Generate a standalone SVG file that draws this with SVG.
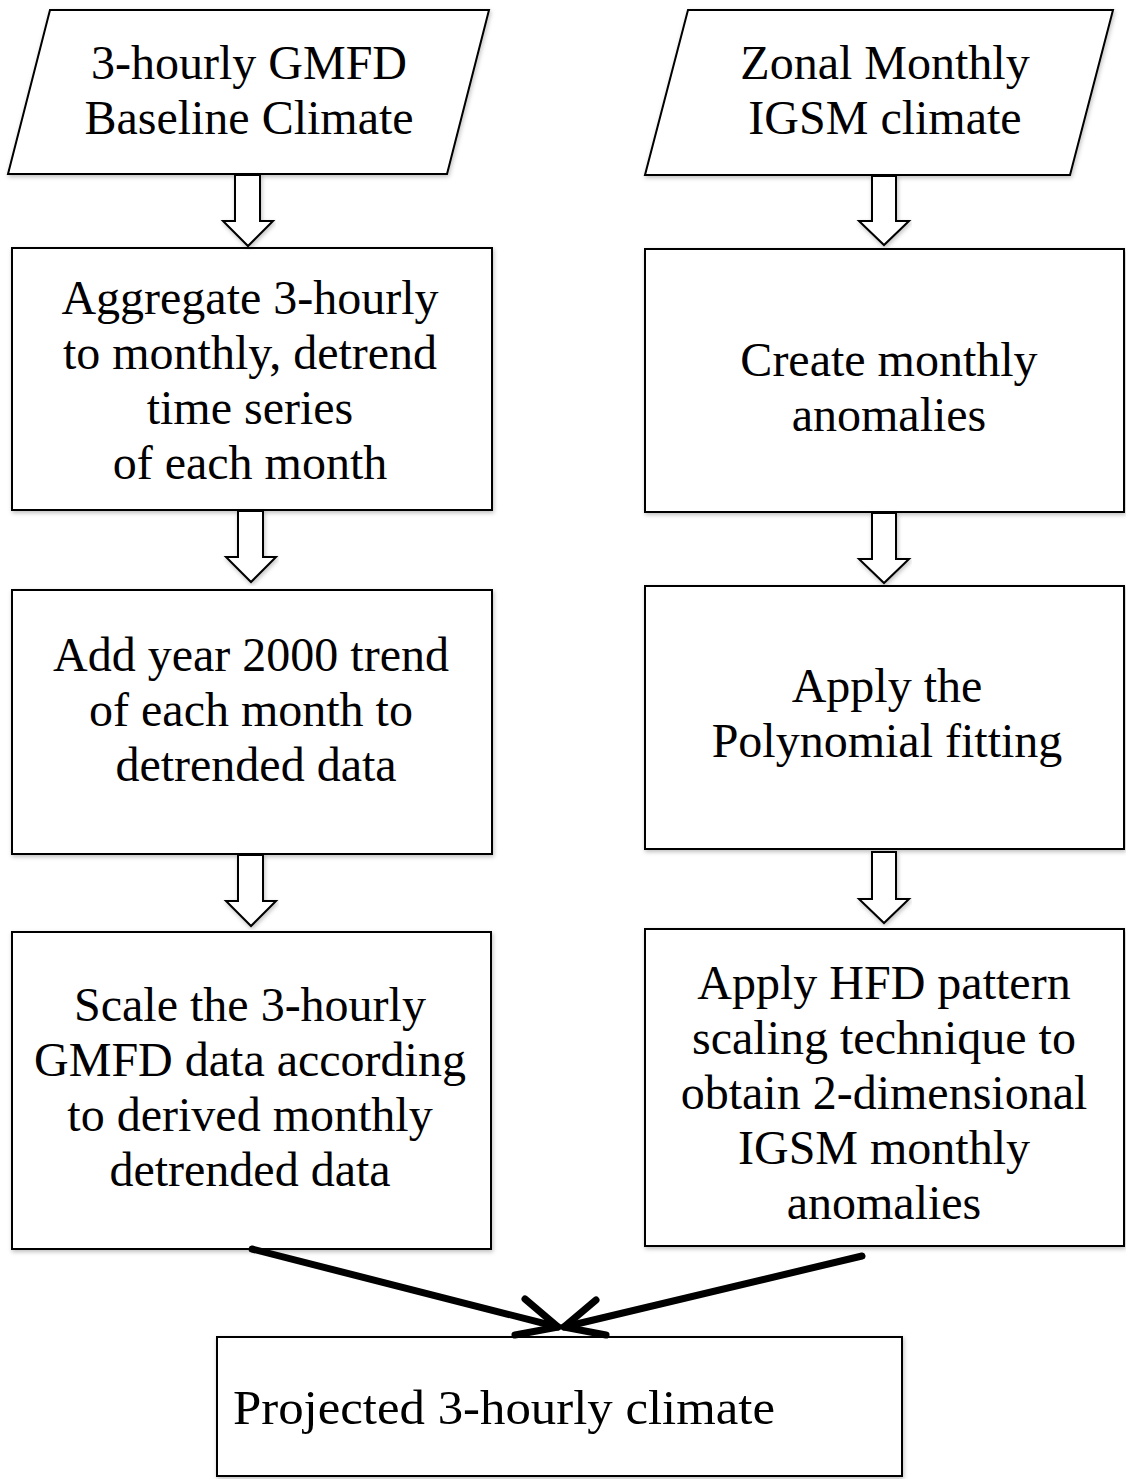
<svg xmlns="http://www.w3.org/2000/svg" width="1126" height="1479" viewBox="0 0 1126 1479">
<defs>
<filter id="sh" x="-5%" y="-5%" width="110%" height="110%">
<feDropShadow dx="1" dy="2" stdDeviation="2" flood-color="#000" flood-opacity="0.25"/>
</filter>
</defs>
<style>
.box{fill:#fff;stroke:#000;stroke-width:2;filter:url(#sh)}
.blk{fill:#fff;stroke:#000;stroke-width:2;stroke-linejoin:miter;filter:url(#sh)}
.t{font-family:"Liberation Serif","Times New Roman",serif;font-size:48px;fill:#000;text-anchor:middle}
.tp{font-family:"Liberation Serif",serif;font-size:49px;fill:#000}
.ln{stroke:#000;stroke-width:7;stroke-linecap:round;fill:none;stroke-linejoin:round}
</style>
<rect width="1126" height="1479" fill="#fff"/>
<g id="n1">
<polygon class="box" points="50,10 489,10 447,174 8,174"/>
<text class="t" x="249" y="79">3-hourly GMFD</text>
<text class="t" x="249" y="134">Baseline Climate</text>
</g>
<g id="n2">
<polygon class="box" points="688,10 1113,10 1070,175 645,175"/>
<text class="t" x="885" y="79">Zonal Monthly</text>
<text class="t" x="885" y="134">IGSM climate</text>
</g>
<g id="n3">
<rect class="box" x="12" y="248" width="480" height="262"/>
<text class="t" x="250" y="314">Aggregate 3-hourly</text>
<text class="t" x="250" y="369">to monthly, detrend</text>
<text class="t" x="250" y="424">time series</text>
<text class="t" x="250" y="479">of each month</text>
</g>
<g id="n4">
<rect class="box" x="645" y="249" width="479" height="263"/>
<text class="t" x="889" y="376">Create monthly</text>
<text class="t" x="889" y="431">anomalies</text>
</g>
<g id="n5">
<rect class="box" x="12" y="590" width="480" height="264"/>
<text class="t" x="251" y="671">Add year 2000 trend</text>
<text class="t" x="251" y="726">of each month to</text>
<text class="t" x="256" y="781">detrended data</text>
</g>
<g id="n6">
<rect class="box" x="645" y="586" width="479" height="263"/>
<text class="t" x="887" y="702">Apply the</text>
<text class="t" x="887" y="757">Polynomial fitting</text>
</g>
<g id="n7">
<rect class="box" x="12" y="932" width="479" height="317"/>
<text class="t" x="250" y="1021">Scale the 3-hourly</text>
<text class="t" x="250" y="1076">GMFD data according</text>
<text class="t" x="250" y="1131">to derived monthly</text>
<text class="t" x="250" y="1186">detrended data</text>
</g>
<g id="n8">
<rect class="box" x="645" y="929" width="479" height="317"/>
<text class="t" x="884" y="999">Apply HFD pattern</text>
<text class="t" x="884" y="1054">scaling technique to</text>
<text class="t" x="884" y="1109">obtain 2-dimensional</text>
<text class="t" x="884" y="1164">IGSM monthly</text>
<text class="t" x="884" y="1219">anomalies</text>
</g>
<g id="n9">
<rect class="box" x="217" y="1337" width="685" height="139"/>
<text class="tp" x="233" y="1424" textLength="542" lengthAdjust="spacingAndGlyphs">Projected 3-hourly climate</text>
</g>
<g id="connectors">
<polygon class="blk" points="235,175 260,175 260,221 273,221 248,246 223,221 235,221"/>
<polygon class="blk" points="238,511 263,511 263,557 276,557 251,582 226,557 238,557"/>
<polygon class="blk" points="238,855 263,855 263,901 276,901 251,926 226,901 238,901"/>
<polygon class="blk" points="872,176 896,176 896,221 909,221 884,245 859,221 872,221"/>
<polygon class="blk" points="872,513 896,513 896,559 909,559 884,583 859,559 872,559"/>
<polygon class="blk" points="872,852 896,852 896,899 909,899 884,923 859,899 872,899"/>
<line class="ln" x1="252" y1="1249" x2="558" y2="1327"/>
<polyline class="ln" points="525,1299 558,1327 515,1335"/>
<line class="ln" x1="862" y1="1256" x2="564" y2="1327"/>
<polyline class="ln" points="596,1300 564,1327 606,1335"/>
</g>
</svg>
